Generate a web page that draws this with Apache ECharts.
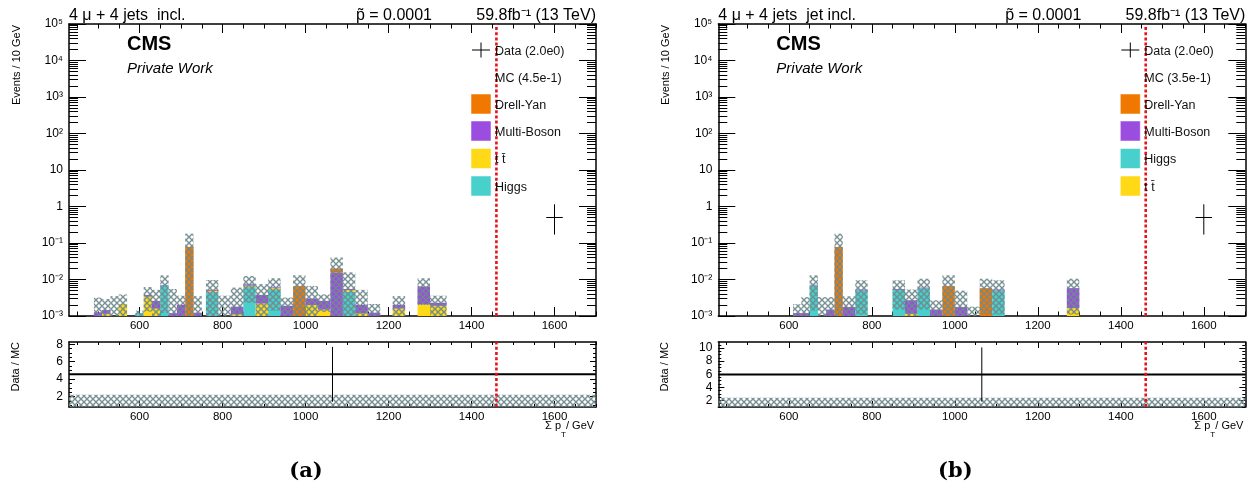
<!DOCTYPE html>
<html>
<head>
<meta charset="utf-8">
<script src="https://cdn.jsdelivr.net/npm/echarts@6/dist/echarts.min.js"></script>
<style>
  html, body { margin: 0; padding: 0; background: #fff; }
  #chart { width: 1254px; height: 490px; }
</style>
</head>
<body>
<div id="chart"></div>
<script>
// sum pT axis range and the cut value (red dashed line)
const xMin = 430, xMax = 1700;
const cutValue = 1460;
const yMin = 1e-3, yMax = 1e5;

// ---- panel (a): 4 mu + 4 jets incl. ----  (bin edges in GeV, contents in events / 10 GeV)
const binLoA = [490, 510, 530, 550, 590, 610, 630, 650, 670, 690, 710, 730, 760, 790, 820, 850, 880, 910, 940, 970, 1000, 1030, 1060, 1090, 1120, 1150, 1210, 1270, 1300];
const binHiA = [510, 530, 550, 570, 610, 630, 650, 670, 690, 710, 730, 750, 790, 820, 850, 880, 910, 940, 970, 1000, 1030, 1060, 1090, 1120, 1150, 1180, 1240, 1300, 1340];
const higgsA = [0, 0, 0, 0, 0.0012, 0, 0, 0.0068, 0, 0, 0, 0, 0.0045, 0, 0, 0.0062, 0, 0.0053, 0, 0, 0, 0, 0, 0.0046, 0, 0, 0, 0, 0];
const ttbarA = [0, 0.00115, 0, 0.00213, 0, 0.0034, 0.0016, 0, 0, 0, 0, 0, 0.0004, 0, 0.0011, 0.0006, 0.0022, 0.0005, 0, 0, 0.002, 0.0015, 0, 0.0005, 0.0012, 0, 0.0016, 0.0021, 0.0019];
const multiBosonA = [0.00126, 0.00031, 0.0006, 0, 0, 0.00036, 0.001, 0.0003, 0.0012, 0.002, 0, 0.00123, 0.0003, 0.0006, 0.0007, 0.0006, 0.00156, 0.0003, 0.0019, 0, 0.001, 0.0011, 0.0154, 0.0004, 0.0008, 0.00123, 0.0004, 0.0043, 0.0004];
const drellYanA = [0, 0, 0, 0, 0, 0, 0, 0, 0, 0, 0.079, 0, 0, 0, 0, 0, 0, 0, 0, 0.0066, 0, 0, 0.0046, 0, 0, 0, 0, 0, 0];
const mcErrA = [0.00194, 0.00144, 0.0029, 0.00177, 0.0002, 0.00244, 0.0026, 0.0059, 0.0043, 0.0016, 0.101, 0.00227, 0.0045, 0.003, 0.0042, 0.0051, 0.0037, 0.0047, 0.0013, 0.0064, 0.0036, 0.0013, 0.02, 0.0102, 0.0032, 0.0009, 0.0015, 0.0044, 0.0013];
const ratioA = 4.55, ratioErrA = 3.15, ratioBandA = 1.19;

// ---- panel (b): 4 mu + 4 jets jet incl. ----
const binLoB = [610, 630, 650, 670, 690, 710, 730, 760, 850, 880, 910, 940, 970, 1000, 1030, 1060, 1090, 1270];
const binHiB = [630, 650, 670, 690, 710, 730, 760, 790, 880, 910, 940, 970, 1000, 1030, 1060, 1090, 1120, 1300];
const ttbarB = [0, 0, 0, 0, 0, 0, 0, 0, 0, 0.00115, 0, 0, 0, 0, 0, 0, 0, 0.00165];
const higgsB = [0, 0, 0.0069, 0, 0, 0, 0, 0.005, 0.0052, 0, 0.0057, 0, 0, 0, 0, 0, 0.005, 0];
const multiBosonB = [0.0012, 0.0012, 0.0003, 0.0007, 0.0015, 0, 0.00176, 0.0003, 0.0003, 0.00155, 0.0003, 0.0015, 0, 0.00176, 0.0006, 0, 0.0003, 0.00415];
const drellYanB = [0, 0, 0, 0, 0, 0.078, 0, 0, 0, 0, 0, 0, 0.0066, 0, 0, 0.0058, 0, 0];
const mcErrB = [0.0009, 0.0021, 0.0058, 0.0026, 0.0018, 0.102, 0.0017, 0.0042, 0.004, 0.0026, 0.0045, 0.0012, 0.0064, 0.0032, 0.0012, 0.0047, 0.0042, 0.0047];
const ratioB = 5.95, ratioErrB = 4.15, ratioBandB = 1.4;

// data (same in both panels): one wide bin at 1600 GeV
const dataX = [1600];
const dataY = [0.5];
const dataErrLo = [0.33];
const dataErrHi = [0.65];
const dataHalfWidth = [20];

// tick labels
const majorX = [600, 800, 1000, 1200, 1400, 1600];

const FONT = '"Liberation Sans", Arial, Helvetica, sans-serif';
const colors = { dy: '#f07800', mb: '#9b4de0', tt: '#ffd816', higgs: '#48d1cc' };
const CUT_COLOR = '#e3141c';

// cross hatch used for the MC uncertainty
const hatchCanvas = document.createElement('canvas');
hatchCanvas.width = 6; hatchCanvas.height = 6;
(function () {
  const g = hatchCanvas.getContext('2d');
  g.strokeStyle = 'rgba(112,138,142,0.95)';
  g.lineWidth = 1.4;
  g.beginPath();
  g.moveTo(0, 0); g.lineTo(6, 6);
  g.moveTo(6, 0); g.lineTo(0, 6);
  g.stroke();
})();
const hatchFill = { image: hatchCanvas, repeat: 'repeat' };

const minorX = [];
for (let v = 450; v <= xMax; v += 50) minorX.push(v);
const decades = [-3, -2, -1, 0, 1, 2, 3, 4, 5];
const minorDecades = [];
for (let d = -3; d < 5; d++) for (let k = 2; k <= 9; k++) minorDecades.push(d + Math.log10(k));

const SUP = { '-': '\u207b', '0': '\u2070', '1': '\u00b9', '2': '\u00b2', '3': '\u00b3', '4': '\u2074', '5': '\u2075' };
function powLabel(v) {
  const n = Math.round(v);
  if (n === 0) return '1';
  if (n === 1) return '10';
  return '10' + String(n).split('').map(c => SUP[c]).join('');
}

const grids = [], xAxes = [], yAxes = [], series = [], graphics = [];

function addXAxes(gi, majorLen, minorLen) {
  const start = xAxes.length;
  const base = { type: 'value', gridIndex: gi, min: xMin, max: xMax, splitLine: { show: false } };
  ['bottom', 'top'].forEach(pos => {
    xAxes.push(Object.assign({}, base, {
      position: pos,
      axisLine: { show: true, onZero: false, lineStyle: { color: '#000', width: 1.5 } },
      axisTick: { show: true, inside: true, length: majorLen, customValues: majorX, lineStyle: { color: '#000', width: 1 } },
      axisLabel: { show: pos === 'bottom', customValues: majorX, margin: 4, color: '#000', fontSize: 11.5, fontFamily: FONT, formatter: v => String(v) }
    }));
    xAxes.push(Object.assign({}, base, {
      position: pos,
      axisLine: { show: false, onZero: false },
      axisTick: { show: true, inside: true, length: minorLen, customValues: minorX, lineStyle: { color: '#000', width: 1 } },
      axisLabel: { show: false }
    }));
  });
  return start;
}

function addFrameY(gi, min, max, majors, minors, majorLen, minorLen, formatter) {
  ['left', 'right'].forEach(pos => {
    yAxes.push({
      type: 'value', gridIndex: gi, position: pos, min: min, max: max, splitLine: { show: false },
      axisLine: { show: true, onZero: false, lineStyle: { color: '#000', width: 1.5 } },
      axisTick: { show: true, inside: true, length: majorLen, customValues: majors, lineStyle: { color: '#000', width: 1 } },
      axisLabel: { show: pos === 'left', customValues: majors, margin: 6, color: '#000', fontSize: 12, fontFamily: FONT, formatter: formatter }
    });
    yAxes.push({
      type: 'value', gridIndex: gi, position: pos, min: min, max: max, splitLine: { show: false },
      axisLine: { show: false, onZero: false },
      axisTick: { show: true, inside: true, length: minorLen, customValues: minors, lineStyle: { color: '#000', width: 1 } },
      axisLabel: { show: false }
    });
  });
}

function clipRect(p0, p1, cs) {
  return echarts.graphic.clipRectByRect(
    { x: Math.min(p0[0], p1[0]), y: Math.min(p0[1], p1[1]), width: Math.abs(p1[0] - p0[0]), height: Math.abs(p1[1] - p0[1]) },
    { x: cs.x, y: cs.y, width: cs.width, height: cs.height });
}

function stackSeries(xi, yi, lo, hi, layers) {
  return {
    type: 'custom', xAxisIndex: xi, yAxisIndex: yi, silent: true, z: 2,
    data: lo.map((l, i) => [l, hi[i]].concat(layers.map(L => L.values[i]))),
    renderItem(params, api) {
      const l = api.value(0), h = api.value(1);
      const children = [];
      let cum = 0;
      layers.forEach((L, k) => {
        const v = api.value(2 + k);
        if (!(v > 0)) return;
        const base = Math.max(cum, yMin * 0.1);
        cum += v;
        const r = clipRect(api.coord([l, base]), api.coord([h, cum]), params.coordSys);
        if (r) children.push({ type: 'rect', shape: r, style: { fill: L.color } });
      });
      return { type: 'group', children };
    }
  };
}

function hatchSeries(xi, yi, lo, hi, layers, err) {
  return {
    type: 'custom', xAxisIndex: xi, yAxisIndex: yi, silent: true, z: 3,
    data: lo.map((l, i) => [l, hi[i], layers.reduce((s, L) => s + L.values[i], 0), err[i]]),
    renderItem(params, api) {
      const l = api.value(0), h = api.value(1), tot = api.value(2), e = api.value(3);
      const r = clipRect(api.coord([l, Math.max(tot - e, yMin * 0.1)]), api.coord([h, tot + e]), params.coordSys);
      return r ? { type: 'rect', shape: r, style: { fill: hatchFill } } : null;
    }
  };
}

function dataSeries(xi, yi) {
  return {
    type: 'custom', xAxisIndex: xi, yAxisIndex: yi, silent: true, z: 5,
    data: dataX.map((x, i) => [x, dataY[i], dataErrLo[i], dataErrHi[i], dataHalfWidth[i]]),
    renderItem(params, api) {
      const x = api.value(0), y = api.value(1);
      const c = api.coord([x, y]);
      const cl = api.coord([x - api.value(4), y]), cr = api.coord([x + api.value(4), y]);
      const pl = api.coord([x, y - api.value(2)]), ph = api.coord([x, y + api.value(3)]);
      return { type: 'group', children: [
        { type: 'line', shape: { x1: cl[0], y1: c[1], x2: cr[0], y2: c[1] }, style: { stroke: '#000', lineWidth: 1 } },
        { type: 'line', shape: { x1: c[0], y1: pl[1], x2: c[0], y2: ph[1] }, style: { stroke: '#000', lineWidth: 1 } }
      ] };
    }
  };
}

function cutSeries(xi, yi, lo, hi) {
  return {
    type: 'line', xAxisIndex: xi, yAxisIndex: yi, silent: true, z: 6, symbol: 'none',
    data: [[cutValue, lo], [cutValue, hi]],
    lineStyle: { color: CUT_COLOR, width: 2.6, type: [3, 2.2] }
  };
}

function ratioSeries(xi, yi, ratio, err, band) {
  return [
    {
      type: 'custom', xAxisIndex: xi, yAxisIndex: yi, silent: true, z: 2,
      data: [[xMin, xMax, 1 - band, 1 + band]],
      renderItem(params, api) {
        const r = clipRect(api.coord([api.value(0), api.value(2)]), api.coord([api.value(1), api.value(3)]), params.coordSys);
        return r ? { type: 'rect', shape: r, style: { fill: hatchFill } } : null;
      }
    },
    {
      type: 'custom', xAxisIndex: xi, yAxisIndex: yi, silent: true, z: 4,
      data: [[xMin, xMax, ratio, err]],
      renderItem(params, api) {
        const lo = api.value(0), hi = api.value(1), r = api.value(2), e = api.value(3);
        const a = api.coord([lo, r]), b = api.coord([hi, r]);
        const m = api.coord([(lo + hi) / 2, r - e]), n = api.coord([(lo + hi) / 2, r + e]);
        return { type: 'group', children: [
          { type: 'line', shape: { x1: a[0], y1: a[1], x2: b[0], y2: b[1] }, style: { stroke: '#000', lineWidth: 2 } },
          { type: 'line', shape: { x1: m[0], y1: m[1], x2: n[0], y2: n[1] }, style: { stroke: '#000', lineWidth: 1 } }
        ] };
      }
    }
  ];
}

function txt(x, y, text, fontSize, opts) {
  graphics.push({
    type: 'text', x: x, y: y, silent: true, z: 100,
    rotation: (opts && opts.rotation) || 0,
    style: Object.assign({ text: text, fill: '#000', fontSize: fontSize, fontFamily: FONT, align: 'left', verticalAlign: 'middle' }, opts && opts.style)
  });
}

const panels = [
  {
    dx: 0, left: 69, title: '4 \u03bc + 4 jets  incl.', mcText: 'MC (4.5e-1)', caption: '(a)',
    lo: binLoA, hi: binHiA, err: mcErrA,
    stack: [
      { name: 'Higgs', values: higgsA, color: colors.higgs },
      { name: 't t\u0304', values: ttbarA, color: colors.tt },
      { name: 'Multi-Boson', values: multiBosonA, color: colors.mb },
      { name: 'Drell-Yan', values: drellYanA, color: colors.dy }
    ],
    ratio: ratioA, ratioErr: ratioErrA, band: ratioBandA,
    rMin: 0.79, rMax: 8.26, rMajors: [2, 4, 6, 8]
  },
  {
    dx: 649.3, left: 718.3, title: '4 \u03bc + 4 jets  jet incl.', mcText: 'MC (3.5e-1)', caption: '(b)',
    lo: binLoB, hi: binHiB, err: mcErrB,
    stack: [
      { name: 't t\u0304', values: ttbarB, color: colors.tt },
      { name: 'Higgs', values: higgsB, color: colors.higgs },
      { name: 'Multi-Boson', values: multiBosonB, color: colors.mb },
      { name: 'Drell-Yan', values: drellYanB, color: colors.dy }
    ],
    ratio: ratioB, ratioErr: ratioErrB, band: ratioBandB,
    rMin: 0.98, rMax: 10.93, rMajors: [2, 4, 6, 8, 10]
  }
];

panels.forEach(p => {
  const dx = p.dx;
  // main pad
  const gMain = grids.length;
  grids.push({ left: p.left, top: 24, width: 527, height: 292 });
  const xi = addXAxes(gMain, 9, 4.5);
  const yi = yAxes.length;
  yAxes.push({ type: 'log', logBase: 10, gridIndex: gMain, min: yMin, max: yMax, show: false });
  addFrameY(gMain, -3, 5, decades, minorDecades, 17, 9, powLabel);
  series.push(stackSeries(xi, yi, p.lo, p.hi, p.stack));
  series.push(hatchSeries(xi, yi, p.lo, p.hi, p.stack, p.err));
  series.push(dataSeries(xi, yi));
  series.push(cutSeries(xi, yi, yMin, yMax));

  // ratio pad
  const gRatio = grids.length;
  grids.push({ left: p.left, top: 342, width: 527, height: 65 });
  const rxi = addXAxes(gRatio, 6, 3);
  const ryi = yAxes.length;
  const rMinors = [];
  for (let v = 1; v <= p.rMax; v += 0.5) rMinors.push(v);
  addFrameY(gRatio, p.rMin, p.rMax, p.rMajors, rMinors, 6, 3, v => String(v));
  ratioSeries(rxi, ryi, p.ratio, p.ratioErr, p.band).forEach(s => series.push(s));
  series.push(cutSeries(rxi, ryi, p.rMin, p.rMax));

  // header texts
  txt(69 + dx, 16, p.title, 16);
  txt(432 + dx, 16, 'p\u0303 = 0.0001', 16, { style: { align: 'right' } });
  txt(596 + dx, 16, '59.8fb\u207b\u00b9 (13 TeV)', 16, { style: { align: 'right' } });
  txt(127 + dx, 44, 'CMS', 20, { style: { fontWeight: 'bold' } });
  txt(127 + dx, 69, 'Private Work', 15, { style: { fontStyle: 'italic' } });
  txt(17 + dx, 25, 'Events / 10 GeV', 11, { rotation: Math.PI / 2, style: { align: 'right' } });
  txt(16 + dx, 342, 'Data / MC', 11, { rotation: Math.PI / 2, style: { align: 'right' } });
  txt(561 + dx, 426, '\u03a3 p', 11, { style: { align: 'right' } });
  txt(563.5 + dx, 435, 'T', 8, { style: { align: 'center' } });
  txt(566 + dx, 426, '/ GeV', 11);
  txt(306 + dx, 472, p.caption, 21, { style: { align: 'center', fontWeight: 'bold', fontFamily: '"DejaVu Serif", "Liberation Serif", serif' } });

  // legend
  const lx = 471 + dx;
  const rowY = [51.5, 78.5, 105.5, 132.5, 160, 187.5];
  graphics.push({ type: 'line', silent: true, shape: { x1: lx + 1, y1: 50, x2: lx + 19, y2: 50 }, style: { stroke: '#000', lineWidth: 1 } });
  graphics.push({ type: 'line', silent: true, shape: { x1: lx + 10, y1: 42.5, x2: lx + 10, y2: 57.5 }, style: { stroke: '#000', lineWidth: 1 } });
  txt(lx + 24, rowY[0], 'Data (2.0e0)', 12.5, { style: { fill: '#111' } });
  txt(lx + 24, rowY[1], p.mcText, 12.5, { style: { fill: '#111' } });
  p.stack.slice().reverse().forEach((L, k) => {
    const yc = rowY[k + 2] - 1.5;
    graphics.push({ type: 'rect', silent: true, shape: { x: lx, y: yc - 10, width: 20, height: 20 }, style: { fill: L.color, stroke: 'rgba(255,255,255,0.5)', lineWidth: 1 } });
    txt(lx + 24, rowY[k + 2], L.name, 12.5, { style: { fill: '#111' } });
  });
});

const chart = echarts.init(document.getElementById('chart'), null, { renderer: 'canvas' });
chart.setOption({
  animation: false,
  backgroundColor: '#fff',
  grid: grids,
  xAxis: xAxes,
  yAxis: yAxes,
  series: series,
  graphic: graphics
});
</script>
</body>
</html>
